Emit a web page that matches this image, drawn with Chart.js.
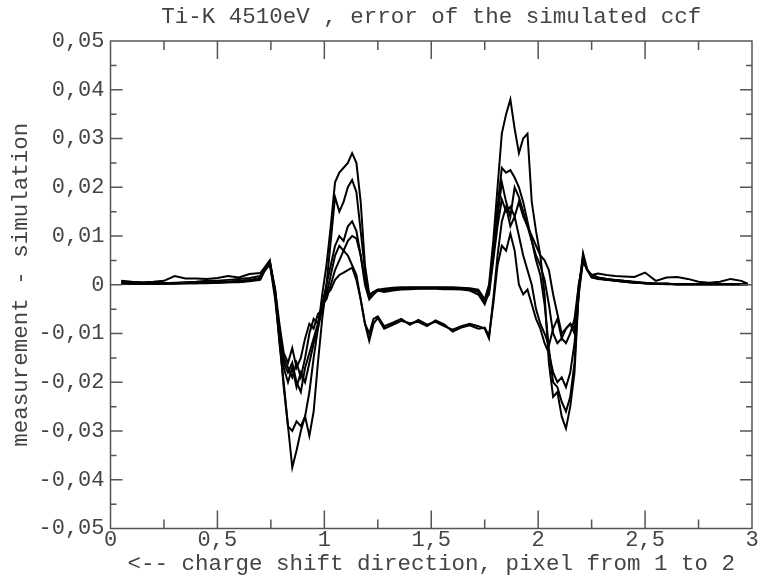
<!DOCTYPE html>
<html>
<head>
<meta charset="utf-8">
<script src="https://cdn.jsdelivr.net/npm/chart.js@4"></script>
<style>
  html, body { margin: 0; padding: 0; background: #fff; }
  #wrap { width: 767px; height: 577px; position: relative; }
</style>
</head>
<body>
<div id="wrap"><canvas id="chart"></canvas></div>
<script>
// shared x positions (pixel units, 0..3)
const xs = [
    0.05, 0.10, 0.15, 0.20, 0.25, 0.30, 0.35, 0.40, 0.45, 0.50, 0.55, 0.60, 0.65, 0.70,
    0.72, 0.745, 0.77, 0.79, 0.81, 0.83, 0.85, 0.87, 0.89, 0.91, 0.93, 0.95, 0.97, 0.99,
    1.01, 1.03, 1.05, 1.07, 1.09, 1.11, 1.13, 1.15, 1.17, 1.19, 1.21, 1.23, 1.25,
    1.28, 1.32, 1.36, 1.40, 1.44, 1.48, 1.52, 1.56, 1.60, 1.64, 1.68, 1.72,
    1.75, 1.77, 1.79, 1.81, 1.83, 1.85, 1.87, 1.89, 1.91, 1.93, 1.95, 1.97, 1.99,
    2.01, 2.03, 2.05, 2.07, 2.09, 2.11, 2.13, 2.15, 2.17, 2.19, 2.21, 2.23, 2.25,
    2.28, 2.32, 2.36, 2.40, 2.45, 2.50, 2.55, 2.60, 2.65, 2.70, 2.75, 2.80, 2.85, 2.90, 2.95, 2.98
];

const run1 = [
    0.0003, 0.0003, 0.0002, 0.0002, 0.0002, 0.0002, 0.0003, 0.0003, 0.0003, 0.0004, 0.0005, 0.0006, 0.0008, 0.0012,
    0.003, 0.0045, -0.002, -0.012, -0.020, -0.029, -0.0375, -0.034, -0.030, -0.027, -0.022, -0.015, -0.009, -0.002,
    0.004, 0.012, 0.021, 0.023, 0.024, 0.025, 0.027, 0.025, 0.017, 0.004, -0.002, -0.0015, -0.001,
    -0.0008, -0.0006, -0.0005, -0.0005, -0.0005, -0.0005, -0.0005, -0.0005, -0.0005, -0.0006, -0.0007, -0.001,
    -0.003, 0.000, 0.009, 0.020, 0.031, 0.035, 0.038, 0.032, 0.027, 0.030, 0.031, 0.017, 0.011,
    0.006, -0.002, -0.016, -0.023, -0.022, -0.027, -0.0295, -0.025, -0.018, -0.001, 0.0065, 0.003, 0.002,
    0.0015, 0.0012, 0.001, 0.0008, 0.0005, 0.0003, 0.0002, 0.0002, 0.0001, 0.0001, 0.0001, 0.0001, 0.0001, 0.0001, 0.0001, 0.0001
];

const run2 = [
    0.0002, 0.0002, 0.0002, 0.0002, 0.0002, 0.0003, 0.0003, 0.0003, 0.0004, 0.0004, 0.0005, 0.0005, 0.0007, 0.0010,
    0.0028, 0.0042, -0.0015, -0.011, -0.021, -0.029, -0.030, -0.028, -0.029, -0.027, -0.031, -0.026, -0.016, -0.007,
    0.000, 0.009, 0.018, 0.015, 0.017, 0.020, 0.0215, 0.019, 0.011, 0.003, -0.0025, -0.0015, -0.001,
    -0.0012, -0.0009, -0.0008, -0.0007, -0.0007, -0.0007, -0.0007, -0.0007, -0.0007, -0.0008, -0.001, -0.0015,
    -0.0035, -0.001, 0.007, 0.016, 0.024, 0.023, 0.0235, 0.022, 0.020, 0.017, 0.013, 0.009, 0.005,
    0.002, -0.004, -0.013, -0.020, -0.021, -0.024, -0.026, -0.023, -0.016, -0.001, 0.006, 0.003, 0.002,
    0.0014, 0.001, 0.0008, 0.0006, 0.0004, 0.0003, 0.0002, 0.0002, 0.0001, 0.0001, 0.0001, 0.0001, 0.0001, 0.0001, 0.0001, 0.0001
];

const run3 = [
    0.0005, 0.0004, 0.0003, 0.0003, 0.0003, 0.0004, 0.0005, 0.0006, 0.0008, 0.0008, 0.0010, 0.0012, 0.0014, 0.0018,
    0.0032, 0.0048, -0.001, -0.010, -0.016, -0.018, -0.016, -0.020, -0.022, -0.017, -0.014, -0.011, -0.008, -0.004,
    0.000, 0.004, 0.008, 0.010, 0.009, 0.012, 0.013, 0.011, 0.006, 0.000, -0.003, -0.002, -0.0012,
    -0.0015, -0.0012, -0.001, -0.0009, -0.0008, -0.0008, -0.0008, -0.0009, -0.0009, -0.001, -0.0012, -0.002,
    -0.004, -0.0015, 0.006, 0.014, 0.021, 0.017, 0.014, 0.020, 0.018, 0.015, 0.012, 0.010, 0.008,
    0.006, 0.005, 0.003, -0.002, -0.006, -0.010, -0.009, -0.008, -0.010, -0.001, 0.005, 0.003, 0.002,
    0.0023, 0.002, 0.0018, 0.0017, 0.0016, 0.0025, 0.0008, 0.0015, 0.0016, 0.0012, 0.0006, 0.0004, 0.0006, 0.0012, 0.0008, 0.0002
];

const run4 = [
    0.0003, 0.0002, 0.0002, 0.0002, 0.0003, 0.0003, 0.0003, 0.0004, 0.0004, 0.0005, 0.0006, 0.0008, 0.0010, 0.0014,
    0.0030, 0.0044, -0.003, -0.011, -0.017, -0.020, -0.017, -0.021, -0.018, -0.020, -0.016, -0.012, -0.009, -0.005,
    -0.002, 0.002, 0.006, 0.008, 0.007, 0.009, 0.010, 0.0095, 0.006, 0.001, -0.002, -0.0015, -0.0012,
    -0.001, -0.0008, -0.0007, -0.0006, -0.0006, -0.0006, -0.0006, -0.0006, -0.0007, -0.0008, -0.0009, -0.0013,
    -0.0032, -0.002, 0.005, 0.012, 0.0175, 0.015, 0.016, 0.014, 0.017, 0.014, 0.012, 0.009, 0.006,
    0.004, 0.001, -0.004, -0.010, -0.012, -0.011, -0.012, -0.010, -0.007, 0.000, 0.005, 0.003, 0.0015,
    0.0012, 0.001, 0.0008, 0.0006, 0.0004, 0.0003, 0.0002, 0.0001, 0.0001, 0.0001, 0.0001, 0.0001, 0.0001, 0.0001, 0.0001, 0.0001
];

const run5 = [
    0.0008, 0.0006, 0.0005, 0.0006, 0.0008, 0.0018, 0.0013, 0.0013, 0.0012, 0.0014, 0.0018, 0.0015, 0.0022, 0.0024,
    0.0035, 0.005, -0.002, -0.009, -0.015, -0.017, -0.019, -0.016, -0.019, -0.015, -0.010, -0.007, -0.008, -0.004,
    -0.003, 0.000, 0.003, 0.005, 0.007, 0.006, 0.004, 0.002, -0.003, -0.008, -0.010, -0.007, -0.0065,
    -0.0085, -0.0078, -0.0070, -0.0082, -0.0072, -0.0082, -0.0076, -0.0085, -0.0092, -0.0085, -0.0080, -0.0085,
    -0.009, -0.011, -0.003, 0.006, 0.013, 0.016, 0.012, 0.014, 0.010, 0.006, 0.003, 0.000, -0.005,
    -0.008, -0.010, -0.0125, -0.009, -0.007, -0.011, -0.009, -0.008, -0.009, 0.000, 0.005, 0.003, 0.0015,
    0.0013, 0.001, 0.0009, 0.0007, 0.0005, 0.0003, 0.0002, 0.0002, 0.0001, 0.0001, 0.0001, 0.0001, 0.0001, 0.0001, 0.0001, 0.0001
];

const run6 = [
    0.0004, 0.0003, 0.0003, 0.0003, 0.0003, 0.0003, 0.0004, 0.0004, 0.0005, 0.0005, 0.0006, 0.0007, 0.0009, 0.0012,
    0.0028, 0.0046, -0.001, -0.008, -0.014, -0.016, -0.013, -0.017, -0.015, -0.011, -0.008, -0.009, -0.006, -0.005,
    -0.002, -0.001, 0.001, 0.002, 0.0025, 0.003, 0.0035, 0.001, -0.003, -0.008, -0.0115, -0.008, -0.0068,
    -0.009, -0.0082, -0.0074, -0.0079, -0.0076, -0.0085, -0.0073, -0.0081, -0.0096, -0.0088, -0.0083, -0.0090,
    -0.0088, -0.0105, -0.004, 0.004, 0.008, 0.007, 0.0105, 0.007, 0.000, -0.002, -0.001, -0.004, -0.007,
    -0.009, -0.012, -0.014, -0.018, -0.020, -0.019, -0.021, -0.018, -0.012, -0.002, 0.005, 0.003, 0.002,
    0.0015, 0.0012, 0.001, 0.0008, 0.0006, 0.0004, 0.0002, 0.0002, 0.0001, 0.0001, 0.0001, 0.0001, 0.0001, 0.0001, 0.0001, 0.0001
];

const runs = [run1, run2, run3, run4, run5, run6];

const X_MIN = 0, X_MAX = 3, X_STEP = 0.5;
const Y_MIN = -0.05, Y_MAX = 0.05, Y_STEP = 0.01;

const TITLE  = 'Ti-K 4510eV , error of the simulated ccf';
const XLABEL = '<-- charge shift direction, pixel from 1 to 2';
const YLABEL = 'measurement - simulation';

const FONT = '"Liberation Mono", "DejaVu Sans Mono", monospace';
const TEXT_COLOR = '#444';
const AXIS_COLOR = '#555';

function fmtX(v) { return String(v).replace('.', ','); }
function fmtY(v) { return Math.abs(v) < 1e-9 ? '0' : v.toFixed(2).replace('.', ','); }

// frame plus inward ticks on all four sides
const frameTicks = {
    id: 'frameTicks',
    afterDatasetsDraw(chart) {
        const { ctx, chartArea: a, scales: { x, y } } = chart;
        ctx.save();
        ctx.strokeStyle = AXIS_COLOR;
        ctx.lineWidth = 1.5;
        ctx.strokeRect(a.left, a.top, a.right - a.left, a.bottom - a.top);
        ctx.beginPath();
        for (let i = 1; i < 12; i++) {
            const px = x.getPixelForValue(X_MIN + i * X_STEP / 2);
            const len = i % 2 ? 9 : 18;
            ctx.moveTo(px, a.bottom); ctx.lineTo(px, a.bottom - len);
            ctx.moveTo(px, a.top);    ctx.lineTo(px, a.top + len);
        }
        for (let i = 1; i < 20; i++) {
            const py = y.getPixelForValue(Y_MIN + i * Y_STEP / 2);
            const len = i % 2 ? 6 : 12;
            ctx.moveTo(a.left, py);  ctx.lineTo(a.left + len, py);
            ctx.moveTo(a.right, py); ctx.lineTo(a.right - len, py);
        }
        ctx.stroke();
        ctx.restore();
    }
};

new Chart(document.getElementById('chart'), {
    type: 'scatter',
    data: {
        datasets: runs.map(r => ({
            data: r.map((v, i) => ({ x: xs[i], y: v })),
            showLine: true,
            borderColor: '#000',
            borderWidth: 2,
            pointRadius: 0,
            tension: 0
        }))
    },
    options: {
        responsive: true,
        maintainAspectRatio: false,
        animation: false,
        layout: { padding: { left: 4, right: 15, top: 0, bottom: 0 } },
        plugins: {
            legend: { display: false },
            tooltip: { enabled: false },
            title: {
                display: true,
                text: TITLE,
                fullSize: false,
                color: TEXT_COLOR,
                font: { family: FONT, size: 22.5, weight: 'normal', lineHeight: 1 },
                padding: { top: 6, bottom: 12.5 }
            }
        },
        scales: {
            x: {
                type: 'linear',
                min: X_MIN, max: X_MAX,
                grid: { display: false, drawTicks: false, tickLength: 0 },
                border: { display: false },
                ticks: {
                    stepSize: X_STEP,
                    padding: 1,
                    color: TEXT_COLOR,
                    font: { family: FONT, size: 22, lineHeight: 1 },
                    callback: v => fmtX(v)
                },
                title: {
                    display: true,
                    text: XLABEL,
                    color: TEXT_COLOR,
                    font: { family: FONT, size: 22.5, lineHeight: 1 },
                    padding: { top: 0, bottom: 2 }
                }
            },
            y: {
                type: 'linear',
                min: Y_MIN, max: Y_MAX,
                grid: { display: false, drawTicks: false, tickLength: 0 },
                border: { display: false },
                ticks: {
                    stepSize: Y_STEP,
                    padding: 6,
                    color: TEXT_COLOR,
                    font: { family: FONT, size: 22, lineHeight: 1 },
                    callback: v => fmtY(v)
                },
                title: {
                    display: true,
                    text: YLABEL,
                    color: TEXT_COLOR,
                    font: { family: FONT, size: 22.5, lineHeight: 1 },
                    padding: { top: 6, bottom: 0 }
                }
            }
        }
    },
    plugins: [frameTicks]
});
</script>
</body>
</html>
